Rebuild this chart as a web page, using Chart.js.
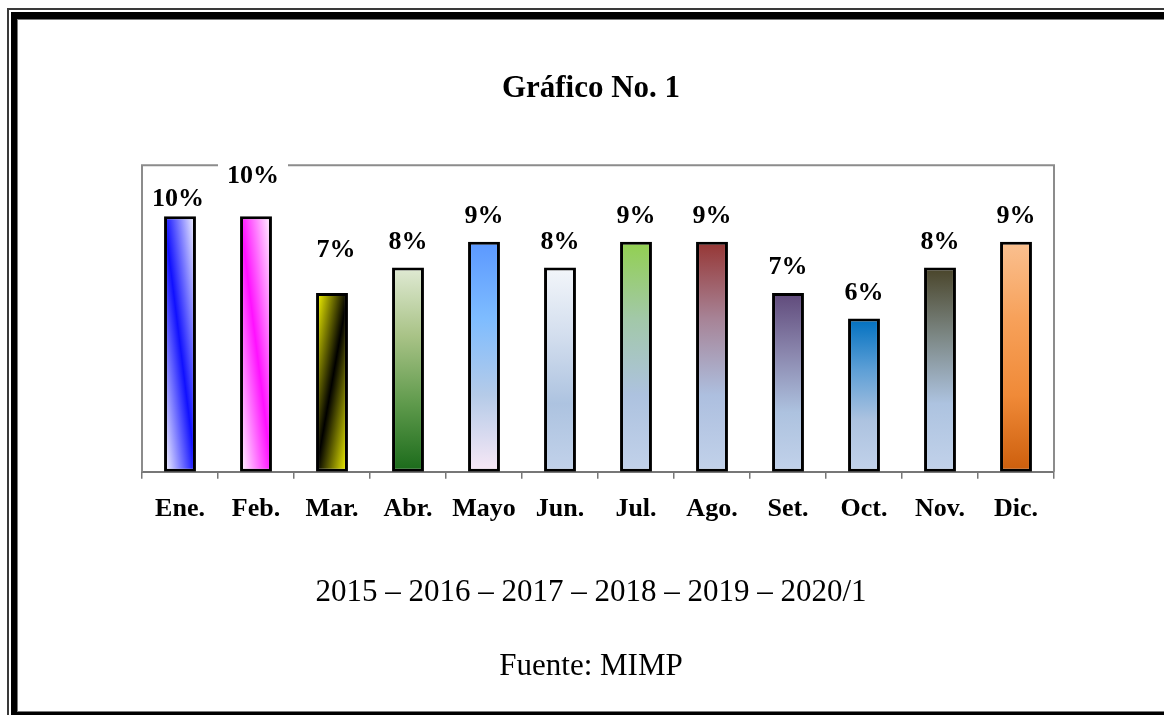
<!DOCTYPE html>
<html>
<head>
<meta charset="utf-8">
<script src="https://cdn.jsdelivr.net/npm/chart.js@4.4.1/dist/chart.umd.min.js"></script>
<style>
  html, body { margin: 0; padding: 0; background: #fff; }
  #chart { display: block; }
</style>
</head>
<body>
<canvas id="chart" width="1164" height="715"></canvas>
<script>
// Chart data
const months = ['Ene.', 'Feb.', 'Mar.', 'Abr.', 'Mayo', 'Jun.', 'Jul.', 'Ago.', 'Set.', 'Oct.', 'Nov.', 'Dic.'];
const shares = [10, 10, 7, 8, 9, 8, 9, 9, 7, 6, 8, 9];

const titleText = 'Gráfico No. 1';
const periodText = '2015 – 2016 – 2017 – 2018 – 2019 – 2020/1';
const sourceText = 'Fuente: MIMP';

const serif = '"Times New Roman", "Liberation Serif", serif';

// Bar fills picked by eye. diag: 1 = stripe from top-left to bottom-right, -1 = the other way
const fills = [
  {diag: 1, stops: ['#ffffff', '#1010ff', '#ffffff']},
  {diag: 1, stops: ['#ffffff', '#ff10ff', '#ffffff']},
  {diag: -1, stops: ['#ffff00', '#000000', '#ffff00']},
  {stops: ['#e0ead4', '#a9c387', '#5f9a4c', '#1a6a1a']},
  {stops: ['#5b98ff', '#7ebcff', '#b5cbe8', '#f8e8f6']},
  {stops: ['#f3f6fa', '#d3deee', '#adc3e0', '#c2d2ea']},
  {stops: ['#92d050', '#a2c8a8', '#adc2df', '#c2d2ea']},
  {stops: ['#963634', '#a78396', '#adbfdf', '#c2d2ea']},
  {stops: ['#604a7b', '#8a86ad', '#adc2df', '#c2d2ea']},
  {stops: ['#0070c0', '#5d9fd6', '#adc3e0', '#c2d2ea']},
  {stops: ['#494429', '#7c8784', '#adc3e0', '#c2d2ea']},
  {stops: ['#fac090', '#f7a15a', '#f08a38', '#cc5e0c']}
];

// Value labels sit ~25px over the bar; a few were moved by hand in the original
const labelShift = [[-2, 8], [-3, -15], [4, -17], [0, 0], [0, 0], [0, 0], [0, 0], [0, 0], [0, 0], [0, 0], [0, 0], [0, 0]];

function barFill(context) {
  const chart = context.chart;
  const i = context.dataIndex;
  const f = fills[i];
  const xs = chart.scales.x, ys = chart.scales.y;
  if (!chart.chartArea || !xs || !ys) return f.stops[1];
  const ctx = chart.ctx;
  const cx = xs.getPixelForValue(i);
  const half = xs.width / months.length * 0.42 / 2;
  const top = ys.getPixelForValue(shares[i]);
  const bottom = ys.getPixelForValue(0);
  let g;
  if (f.diag) {
    const w = half * 2, h = bottom - top;
    const len = Math.sqrt(w * w + h * h);
    const d = w * h / len;
    const nx = h / len * f.diag, ny = -w / len;
    const cy = (top + bottom) / 2;
    g = ctx.createLinearGradient(cx - nx * d, cy - ny * d, cx + nx * d, cy + ny * d);
  } else {
    g = ctx.createLinearGradient(0, top, 0, bottom);
  }
  f.stops.forEach((c, k) => g.addColorStop(k / (f.stops.length - 1), c));
  return g;
}

// double frame round the page
const frame = {
  id: 'frame',
  beforeDraw(chart) {
    const {ctx, width, height} = chart;
    ctx.save();
    ctx.fillStyle = '#fff';
    ctx.fillRect(0, 0, width, height);
    ctx.fillStyle = '#3a3a3a';
    ctx.fillRect(7, 8, 2, height);
    ctx.fillRect(7, 8, width, 2);
    ctx.fillStyle = '#000';
    ctx.fillRect(11, 12, 6, height);
    ctx.fillRect(11, 12, width, 7);
    ctx.fillRect(11, 712, width, 3);
    ctx.fillStyle = '#7a7a7a';
    ctx.fillRect(17, 19, 1, 693);
    ctx.fillRect(17, 19, width, 1);
    ctx.fillRect(17, 711, width, 1);
    ctx.restore();
  }
};

// grey box round the plot (bottom side is the x axis)
const plotBox = {
  id: 'plotBox',
  beforeDatasetsDraw(chart) {
    const {ctx, chartArea: a} = chart;
    ctx.save();
    ctx.strokeStyle = '#8c8c8c';
    ctx.lineWidth = 2;
    ctx.beginPath();
    ctx.moveTo(a.left, a.bottom);
    ctx.lineTo(a.left, a.top);
    ctx.lineTo(a.right, a.top);
    ctx.lineTo(a.right, a.bottom);
    ctx.stroke();
    ctx.restore();
  }
};

const valueLabels = {
  id: 'valueLabels',
  afterDatasetsDraw(chart) {
    const {ctx, chartArea} = chart;
    const meta = chart.getDatasetMeta(0);
    ctx.save();
    ctx.font = 'bold 26px ' + serif;
    ctx.textAlign = 'center';
    ctx.textBaseline = 'middle';
    meta.data.forEach((bar, i) => {
      const [dx, dy] = labelShift[i];
      const x = bar.x + dx, y = bar.y - 25.5 + dy;
      const text = shares[i] + '%';
      const w = ctx.measureText(text).width;
      if (y - 13 < chartArea.top + 2) {
        ctx.fillStyle = '#fff';
        ctx.fillRect(x - w / 2 - 9, y - 13, w + 18, 26);
      }
      ctx.fillStyle = '#000';
      ctx.fillText(text, x, y);
    });
    ctx.restore();
  }
};

new Chart(document.getElementById('chart'), {
  type: 'bar',
  data: {
    labels: months,
    datasets: [{
      data: shares,
      backgroundColor: barFill,
      borderColor: '#000',
      borderWidth: 3,
      borderSkipped: false,
      barPercentage: 0.42,
      categoryPercentage: 1
    }]
  },
  options: {
    responsive: false,
    animation: false,
    layout: {padding: {left: 128, right: 110, top: 0, bottom: 11}},
    plugins: {
      legend: {display: false},
      tooltip: {enabled: false},
      title: {
        display: true,
        text: titleText,
        color: '#000',
        font: {family: serif, size: 31, weight: 'bold'},
        padding: {top: 70, bottom: 58}
      },
      subtitle: {
        display: true,
        position: 'bottom',
        text: [periodText, sourceText],
        color: '#000',
        font: {family: serif, size: 31, weight: 'normal', lineHeight: 2.387},
        padding: {top: 16, bottom: 0}
      }
    },
    scales: {
      x: {
        grid: {display: true, drawOnChartArea: false, drawTicks: true, tickLength: 7, color: '#777', lineWidth: 1.5, offset: true},
        border: {display: true, color: '#777', width: 2},
        ticks: {color: '#000', padding: 15, font: {family: serif, size: 26, weight: 'bold'}}
      },
      y: {
        min: 0,
        max: 12,
        grid: {display: false},
        border: {display: false},
        ticks: {display: false},
        afterFit(scale) { scale.width = 14; }
      }
    }
  },
  plugins: [frame, plotBox, valueLabels]
});
</script>
</body>
</html>
